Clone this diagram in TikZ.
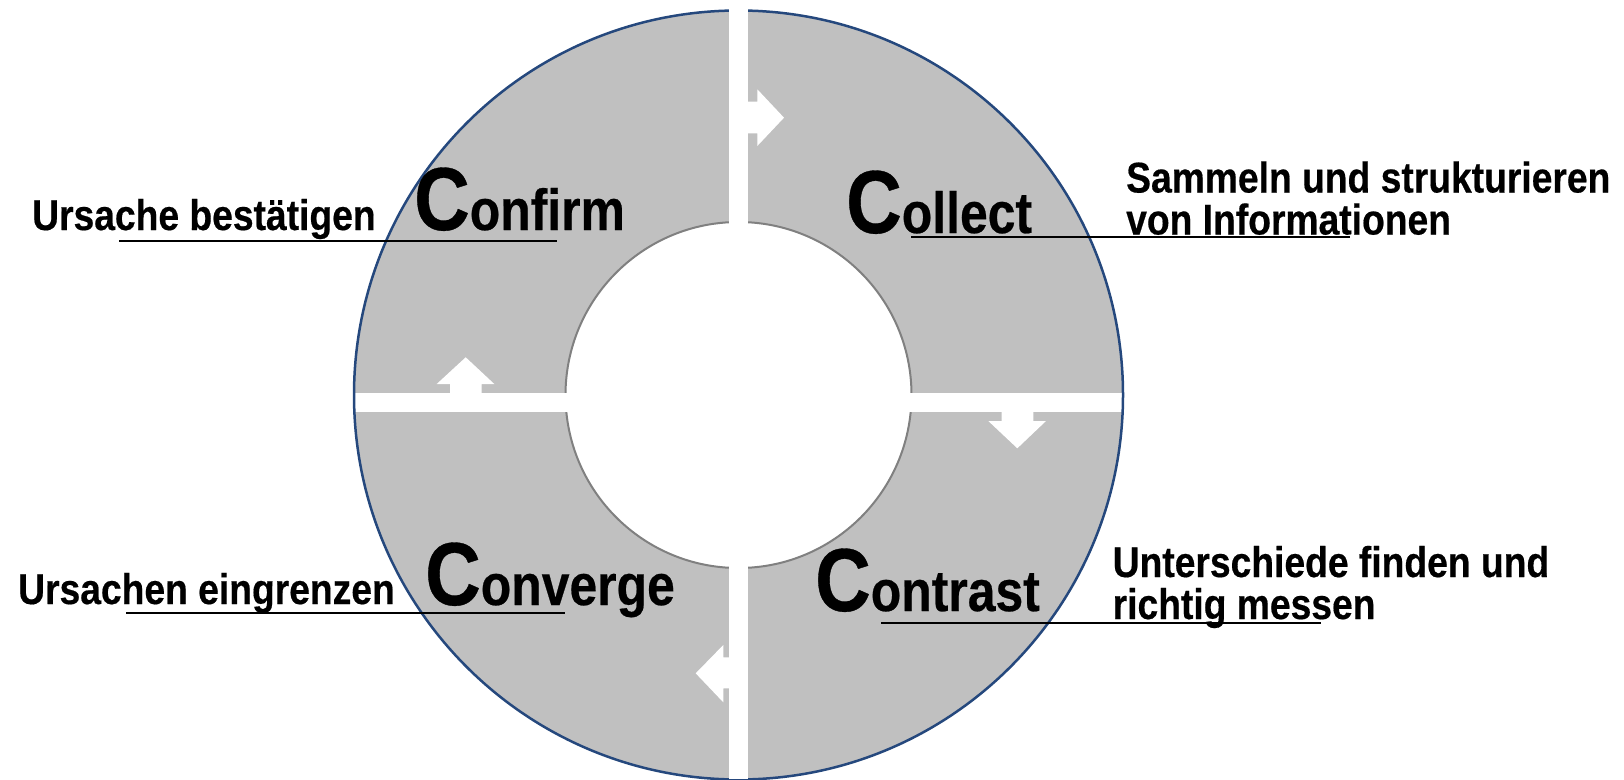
\documentclass[tikz,border=0pt]{standalone}
\usepackage{fontspec}
\newfontfamily\narrowsans{Liberation Sans Bold}[FakeStretch=0.866,FakeBold=0.4]
\newfontfamily\stagesans{Liberation Sans Bold}[FakeStretch=0.86,FakeBold=0.4]
\definecolor{ringgray}{RGB}{192,192,192}
\definecolor{rimblue}{RGB}{37,72,125}
\definecolor{hubgray}{RGB}{128,128,128}
\newcommand\bigC{{\fontsize{89.5}{92}\selectfont C}}
\begin{document}
\begin{tikzpicture}[x=1pt,y=-1pt,
  rim/.style={draw=rimblue,line width=2.5pt},
  hub/.style={draw=hubgray,line width=2pt},
  gap/.style={fill=white},
  labeltext/.style={font=\narrowsans\fontsize{43}{42}\selectfont,inner sep=0pt,anchor=base west},
  stagetext/.style={font=\stagesans\fontsize{58}{60}\selectfont,inner sep=0pt,anchor=base west},
  leader/.style={draw=black,line width=2pt}]
\useasboundingbox (0,0) rectangle (1624,779);
\coordinate (hubc) at (738.5,395);

% ring
\fill[ringgray,even odd rule] (hubc) circle[radius=384.5pt] (hubc) circle[radius=173pt];
\draw[hub] (hubc) circle[radius=173pt];
% horizontal separator
\begin{scope}
  \clip (hubc) circle[radius=384.5pt];
  \fill[gap] (300,393) rectangle (1200,412);
\end{scope}
\draw[rim] (hubc) circle[radius=384.5pt];
% vertical separator
\fill[gap] (729,0) rectangle (748,779);

% direction arrows
\fill[gap] (748,101.7) -- (757.3,101.7) -- (757.3,89.3) -- (784,117.7) -- (757.3,146) -- (757.3,133.3) -- (748,133.3) -- cycle;
\fill[gap] (1001.7,412) -- (1001.7,421) -- (988.3,421) -- (1017.3,448.3) -- (1046,421) -- (1033.3,421) -- (1033.3,412) -- cycle;
\fill[gap] (729,657.3) -- (723.3,657.3) -- (723.3,645) -- (695.7,673.3) -- (723.3,702.3) -- (723.3,688.3) -- (729,688.3) -- cycle;
\fill[gap] (450,393) -- (450,384) -- (436.7,384) -- (465.7,357.3) -- (494.3,384) -- (481.7,384) -- (481.7,393) -- cycle;

% Confirm
\node[stagetext] (confirm) at (414,230) {\bigC onfirm};
\node[labeltext] (confirmnote) at (32,230) {Ursache bestätigen};
\coordinate (confirmA) at (119,241);
\coordinate (confirmB) at (557,241);
\draw[leader] (confirmA) -- (confirmB);

% Collect
\node[stagetext] (collect) at (846,233) {\bigC ollect};
\node[labeltext] (collectnote) at (1126,192.5) {Sammeln und strukturieren};
\node[labeltext] (collectnote2) at ([yshift=-42pt]collectnote.base west) {von Informationen};
\coordinate (collectA) at (911,237);
\coordinate (collectB) at (1350,237);
\draw[leader] (collectA) -- (collectB);

% Converge
\node[stagetext] (converge) at (425,605) {\bigC onverge};
\node[labeltext] (convergenote) at (18,604) {Ursachen eingrenzen};
\coordinate (convergeA) at (126,613);
\coordinate (convergeB) at (565,613);
\draw[leader] (convergeA) -- (convergeB);

% Contrast
\node[stagetext] (contrast) at (815,611) {\bigC ontrast};
\node[labeltext] (contrastnote) at (1112.5,577) {Unterschiede finden und};
\node[labeltext] (contrastnote2) at ([yshift=-42pt]contrastnote.base west) {richtig messen};
\coordinate (contrastA) at (881,622.5);
\coordinate (contrastB) at (1321,622.5);
\draw[leader] (contrastA) -- (contrastB);
\end{tikzpicture}
\end{document}
